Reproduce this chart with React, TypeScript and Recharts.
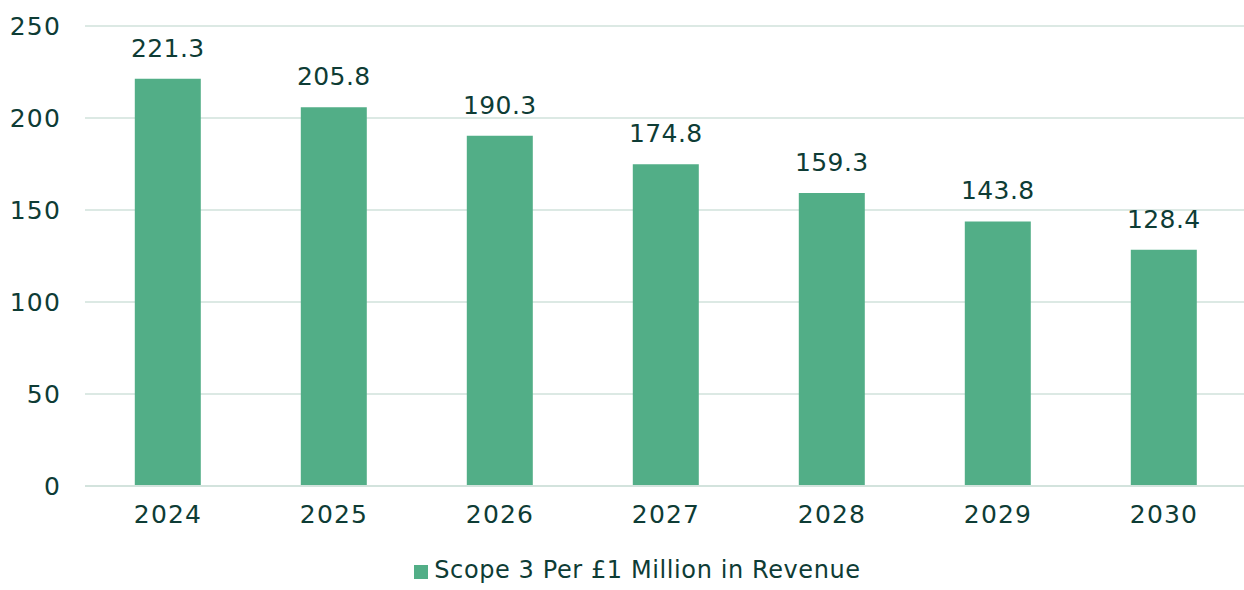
import React from 'react';
import { BarChart, Bar, XAxis, YAxis, CartesianGrid, Legend, LabelList } from 'recharts';

const years = ['2024', '2025', '2026', '2027', '2028', '2029', '2030'];
const scope3 = [221.3, 205.8, 190.3, 174.8, 159.3, 143.8, 128.4];
const yTicks = [0, 50, 100, 150, 200, 250];
const seriesName = 'Scope 3 Per £1 Million in Revenue';

const data = years.map((y, i) => ({ year: y, value: scope3[i] }));

const TEXT = '#0e3c35';
const BAR = '#52ae87';
const GRID = '#dce9e4';
const FONT = '"DejaVu Sans", sans-serif';

const renderLegend = () => (
  <div style={{ height: 40, display: 'flex', alignItems: 'center', justifyContent: 'center', paddingLeft: 28, fontFamily: FONT }}>
    <span style={{ display: 'inline-block', width: 14, height: 14, background: BAR, marginRight: 6, marginTop: 4 }} />
    <span style={{ color: TEXT, fontSize: 24, letterSpacing: 0.6 }}>{seriesName}</span>
  </div>
);

export default function App() {
  return (
    <div style={{ position: 'absolute', left: 0, top: 0, width: 1244, height: 590, overflow: 'hidden', background: '#fff' }}>
      <BarChart width={1247} height={590} data={data} margin={{ top: 26, right: 0, bottom: 0, left: 0 }} barCategoryGap="30%">
        <CartesianGrid vertical={false} stroke={GRID} strokeWidth={2} />
        <XAxis
          dataKey="year"
          height={64}
          tickLine={false}
          axisLine={{ stroke: '#d3e3dd', strokeWidth: 2 }}
          tickMargin={13}
          tick={{ fill: TEXT, fontSize: 25, fontFamily: FONT, letterSpacing: 1.2 }}
        />
        <YAxis
          width={85}
          domain={[0, 250]}
          ticks={yTicks}
          axisLine={false}
          tickLine={false}
          tickMargin={18}
          tick={{ fill: TEXT, fontSize: 25, fontFamily: FONT, letterSpacing: 1.2 }}
        />
        <Legend verticalAlign="bottom" content={renderLegend} />
        <Bar dataKey="value" name={seriesName} fill={BAR} isAnimationActive={false}>
          <LabelList dataKey="value" position="top" offset={22} fill={TEXT} fontSize={25} fontFamily={FONT} style={{ letterSpacing: 0.4 }} formatter={(v: number) => v.toFixed(1)} />
        </Bar>
      </BarChart>
    </div>
  );
}
